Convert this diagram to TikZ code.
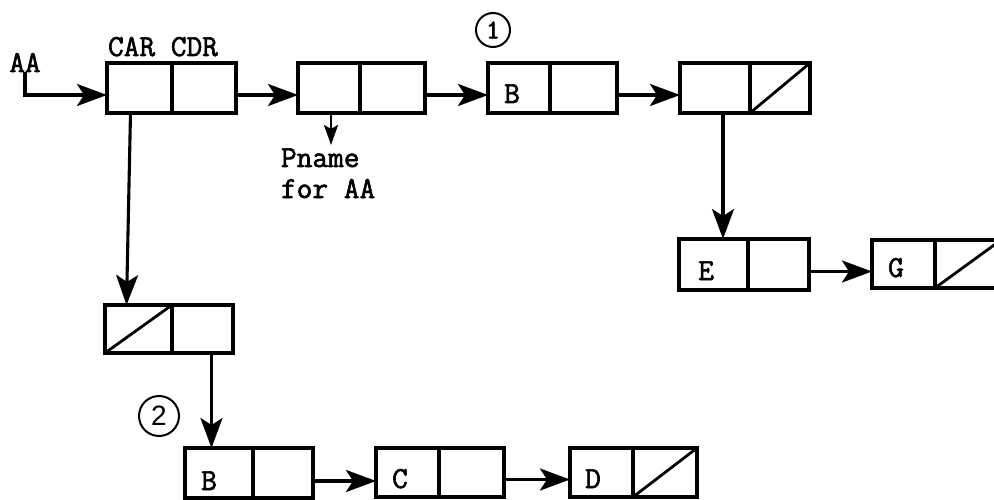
\documentclass[tikz,border=0pt]{standalone}
\usepackage{fontspec}
\newfontfamily\typew[FakeBold=2]{Latin Modern Mono}
\newfontfamily\handsans{Liberation Sans}
\usetikzlibrary{arrows.meta,calc}
\begin{document}
\begin{tikzpicture}[x=1pt,y=-1pt,
  cell/.style={draw, line width=3.1pt, inner sep=0pt, outer sep=0pt, anchor=north west, minimum height=50pt},
  conn/.style={line width=3.1pt, -{Stealth[length=30pt,width=22pt,inset=7pt]}},
  smallconn/.style={line width=2.8pt, -{Stealth[length=20pt,width=14pt,inset=4pt]}},
  nil/.style={line width=2.8pt},
  lbl/.style={inner sep=0pt, outer sep=0pt, anchor=base, font=\typew\fontsize{30.5}{33}\selectfont},
  lblw/.style={lbl, anchor=base west},
  num/.style={draw, circle, line width=2pt, inner sep=0pt}
]
\fill[white] (0,0) rectangle (994,500);
\clip (0,0) rectangle (994,500);

% top row
\node[cell, minimum width=65pt] (b1a) at (107,63) {};
\node[cell, minimum width=64pt] (b1d) at (b1a.north east) {};
\node[cell, minimum width=62pt] (b2a) at (298,63) {};
\node[cell, minimum width=65pt] (b2d) at (b2a.north east) {};
\node[cell, minimum width=62pt] (b3a) at (488,63) {};
\node[cell, minimum width=67pt] (b3d) at (b3a.north east) {};
\node[cell, minimum width=70pt] (b4a) at (680,63) {};
\node[cell, minimum width=60pt] (b4d) at (b4a.north east) {};

% E and G
\node[cell, minimum width=69pt, minimum height=51pt] (eA) at (679,239) {};
\node[cell, minimum width=61pt, minimum height=51pt] (eD) at (eA.north east) {};
\node[cell, minimum width=63pt, minimum height=48pt] (gA) at (872,240) {};
\node[cell, minimum width=66pt, minimum height=48pt] (gD) at (gA.north east) {};

% left column
\node[cell, minimum width=67pt, minimum height=48pt] (c5a) at (105,305) {};
\node[cell, minimum width=61pt, minimum height=48pt] (c5d) at (c5a.north east) {};

% bottom row
\node[cell, minimum width=68pt] (b6a) at (185,448) {};
\node[cell, minimum width=60pt] (b6d) at (b6a.north east) {};
\node[cell, minimum width=63pt, minimum height=49pt] (cA) at (376,448) {};
\node[cell, minimum width=65pt, minimum height=49pt] (cD) at (cA.north east) {};
\node[cell, minimum width=63pt, minimum height=49pt] (dA) at (570,448) {};
\node[cell, minimum width=64pt, minimum height=49pt] (dD) at (dA.north east) {};

% nil diagonals
\draw[nil] (b4d.south west) -- (b4d.north east);
\draw[nil] (gD.south west) -- (gD.north east);
\draw[nil] (c5a.south west) -- (c5a.north east);
\draw[nil] (dD.south west) -- (dD.north east);

% labels
\node[lbl] (aa) at (25,72) {AA};
\node[lbl] (cc) at (163,56) {CAR CDR};
\node[lbl] (tb1) at (512,103) {B};
\node[lbl] (te) at (706,280) {E};
\node[lbl] (tg) at (896,277) {G};
\node[lbl] (tb2) at (209,490) {B};
\node[lbl] (tc) at (400,488) {C};
\node[lbl] (td) at (593,488) {D};
\node[lblw] (pname) at (281,167) {Pname};
\node[lblw] (foraa) at (281,198) {for AA};
\node[num, minimum size=34pt, font=\typew\fontsize{27}{29}\selectfont] (n1) at (493,30) {1};
\node[num, minimum size=40pt, font=\handsans\fontsize{28}{30}\selectfont] (n2) at (159,416) {2};

% connectors
\coordinate (aain) at ([yshift=-7pt]b1a.west);
\draw[conn] (aa.south) |- (aain);
\draw[conn] ([yshift=-7pt]b1d.east) -- ([yshift=-7pt]b2a.west);
\draw[conn] ([yshift=-7pt]b2d.east) -- ([yshift=-7pt]b3a.west);
\draw[conn] ([yshift=-7pt]b3d.east) -- ([yshift=-7pt]b4a.west);
\draw[conn] ([xshift=8pt]b4a.south) -- ([xshift=8pt]b4a.south |- eA.north);
\draw[conn] ([yshift=-7pt]eD.east) -- ([yshift=-7pt]eD.east -| gA.west);
\draw[conn] ([xshift=-9pt]b1a.south) -- ([xshift=-12pt]c5a.north);
\draw[conn] ([xshift=9pt]c5d.south) -- ([xshift=9pt]c5d.south |- b6a.north);
\draw[conn] ([yshift=-8pt]b6d.east) -- ([yshift=-8pt]b6d.east -| cA.west);
\draw[conn] ([yshift=-7pt]cD.east) -- ([yshift=-7pt]cD.east -| dA.west);
\coordinate (pnt) at ([xshift=2pt,yshift=-32pt]b2a.south);
\draw[smallconn] ([xshift=2pt]b2a.south) -- (pnt);
\end{tikzpicture}
\end{document}
